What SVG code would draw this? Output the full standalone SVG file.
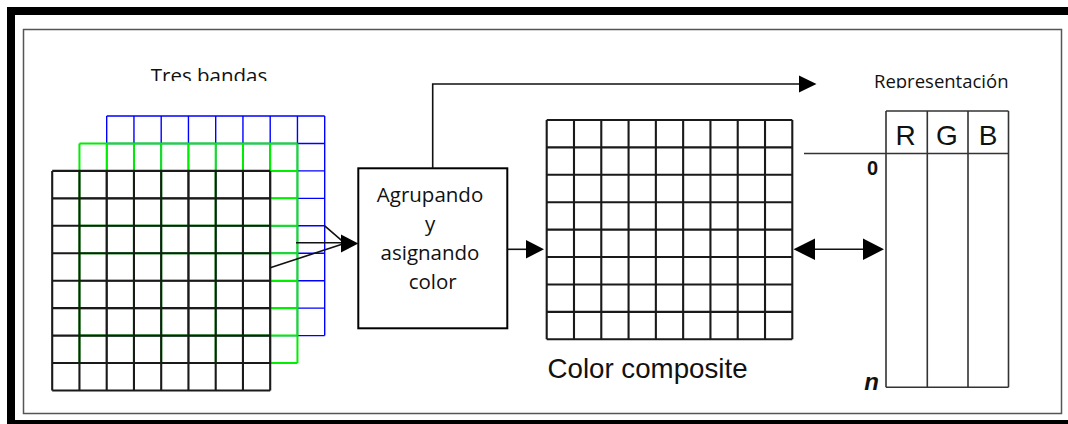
<svg xmlns="http://www.w3.org/2000/svg" width="1068" height="424" viewBox="0 0 1068 424">
<style>
.cal{font-family:"Open Sans","Noto Sans","Liberation Sans",sans-serif;fill:#111}
.ari{font-family:"Liberation Sans",Arial,sans-serif;fill:#111}
.gk{fill:none;stroke:#1a1a1a;stroke-width:2.1}
.gg{fill:none;stroke:#00ee00;stroke-width:2}
.gb{fill:none;stroke:#0000ff;stroke-width:1.4}
.ln{fill:none;stroke:#111;stroke-width:1.6}
.tb{fill:none;stroke:#333;stroke-width:1.6}
.ah{fill:#000}
</style>
<defs>
<clipPath id="clipTres"><rect x="100" y="50" width="220" height="31"/></clipPath>
<clipPath id="clipRep"><rect x="850" y="60" width="180" height="28.3"/></clipPath>
</defs>
<rect x="0" y="0" width="1068" height="424" fill="#fff"/>
<g id="frame">
<rect x="11" y="11" width="1063" height="413" fill="none" stroke="#000" stroke-width="8"/>
<rect x="23.5" y="29.5" width="1038" height="384" fill="none" stroke="#555" stroke-width="1.5"/>
</g>
<g id="tres-bandas-label">
<text class="cal" x="209" y="83" font-size="20.5" text-anchor="middle" clip-path="url(#clipTres)">Tres bandas</text>
</g>
<g id="band-blue">
<path class="gb" d="M106.7,116V335.6M133.95,116V335.6M161.2,116V335.6M188.45,116V335.6M215.7,116V335.6M242.95,116V335.6M270.2,116V335.6M297.45,116V335.6M324.7,116V335.6M106.7,116H324.7M106.7,143.45H324.7M106.7,170.9H324.7M106.7,198.35H324.7M106.7,225.8H324.7M106.7,253.25H324.7M106.7,280.7H324.7M106.7,308.15H324.7M106.7,335.6H324.7"/>
</g>
<g id="band-green">
<path class="gg" d="M79.45,143.45V363.05M106.7,143.45V363.05M133.95,143.45V363.05M161.2,143.45V363.05M188.45,143.45V363.05M215.7,143.45V363.05M242.95,143.45V363.05M270.2,143.45V363.05M297.45,143.45V363.05M79.45,143.45H297.45M79.45,170.9H297.45M79.45,198.35H297.45M79.45,225.8H297.45M79.45,253.25H297.45M79.45,280.7H297.45M79.45,308.15H297.45M79.45,335.6H297.45M79.45,363.05H297.45"/>
</g>
<g id="band-black">
<path class="gk" d="M52.2,170.9V390.5M79.45,170.9V390.5M106.7,170.9V390.5M133.95,170.9V390.5M161.2,170.9V390.5M188.45,170.9V390.5M215.7,170.9V390.5M242.95,170.9V390.5M270.2,170.9V390.5M52.2,170.9H270.2M52.2,198.35H270.2M52.2,225.8H270.2M52.2,253.25H270.2M52.2,280.7H270.2M52.2,308.15H270.2M52.2,335.6H270.2M52.2,363.05H270.2M52.2,390.5H270.2"/>
</g>
<g id="agrupando-box">
<rect x="358.3" y="168.3" width="149" height="160" fill="#fff" stroke="#000" stroke-width="2"/>
<text class="cal" font-size="20.5" text-anchor="middle">
<tspan x="432.7" y="202">Agrupando</tspan>
<tspan x="432.7" y="231">y</tspan>
<tspan x="432.7" y="260">asignando</tspan>
<tspan x="432.7" y="288.5">color</tspan>
</text>
</g>
<g id="color-composite">
<path class="gk" d="M546.7,120V339.3M573.99,120V339.3M601.28,120V339.3M628.57,120V339.3M655.86,120V339.3M683.15,120V339.3M710.44,120V339.3M737.73,120V339.3M765.02,120V339.3M792.3,120V339.3M546.7,120H792.3M546.7,147.41H792.3M546.7,174.82H792.3M546.7,202.23H792.3M546.7,229.64H792.3M546.7,257.05H792.3M546.7,284.46H792.3M546.7,311.87H792.3M546.7,339.3H792.3"/>
<text class="ari" x="547.5" y="378.3" font-size="27.7">Color composite</text>
</g>
<g id="representacion">
<text class="cal" x="874" y="88" font-size="18.5" clip-path="url(#clipRep)">Representación</text>
<path class="tb" d="M886,111H1008.5M804,153.5H1008.5M886,387.3H1008.5M886,111V387.3M927.3,111V387.3M968,111V387.3M1008.5,111V387.3"/>
<text class="ari" font-size="28" text-anchor="middle"><tspan x="905.5" y="145">R</tspan><tspan x="947" y="145">G</tspan><tspan x="988" y="145">B</tspan></text>
<text class="ari" x="878" y="175" font-size="20" font-weight="bold" text-anchor="end">0</text>
<text class="ari" x="879" y="389.5" font-size="24" font-weight="bold" font-style="italic" text-anchor="end">n</text>
</g>
<g id="connectors">
<path class="ln" d="M324.7,225.8L345,243.3M296,242.8H345M270.2,267.7L345,243.3"/>
<polygon class="ah" points="358.3,243.5 341,234.5 341,252.5"/>
<path class="ln" d="M432.7,168.3V84H800"/>
<polygon class="ah" points="816.5,84 799,75.5 799,92.5"/>
<path class="ln" d="M507.3,249.3H527"/>
<polygon class="ah" points="544,249.3 526,240 526,258.5"/>
<path class="ln" d="M812,249.3H866"/>
<polygon class="ah" points="793.5,249.3 815,238.5 815,260"/>
<polygon class="ah" points="884,249.3 863,238.5 863,260"/>
</g>
</svg>
